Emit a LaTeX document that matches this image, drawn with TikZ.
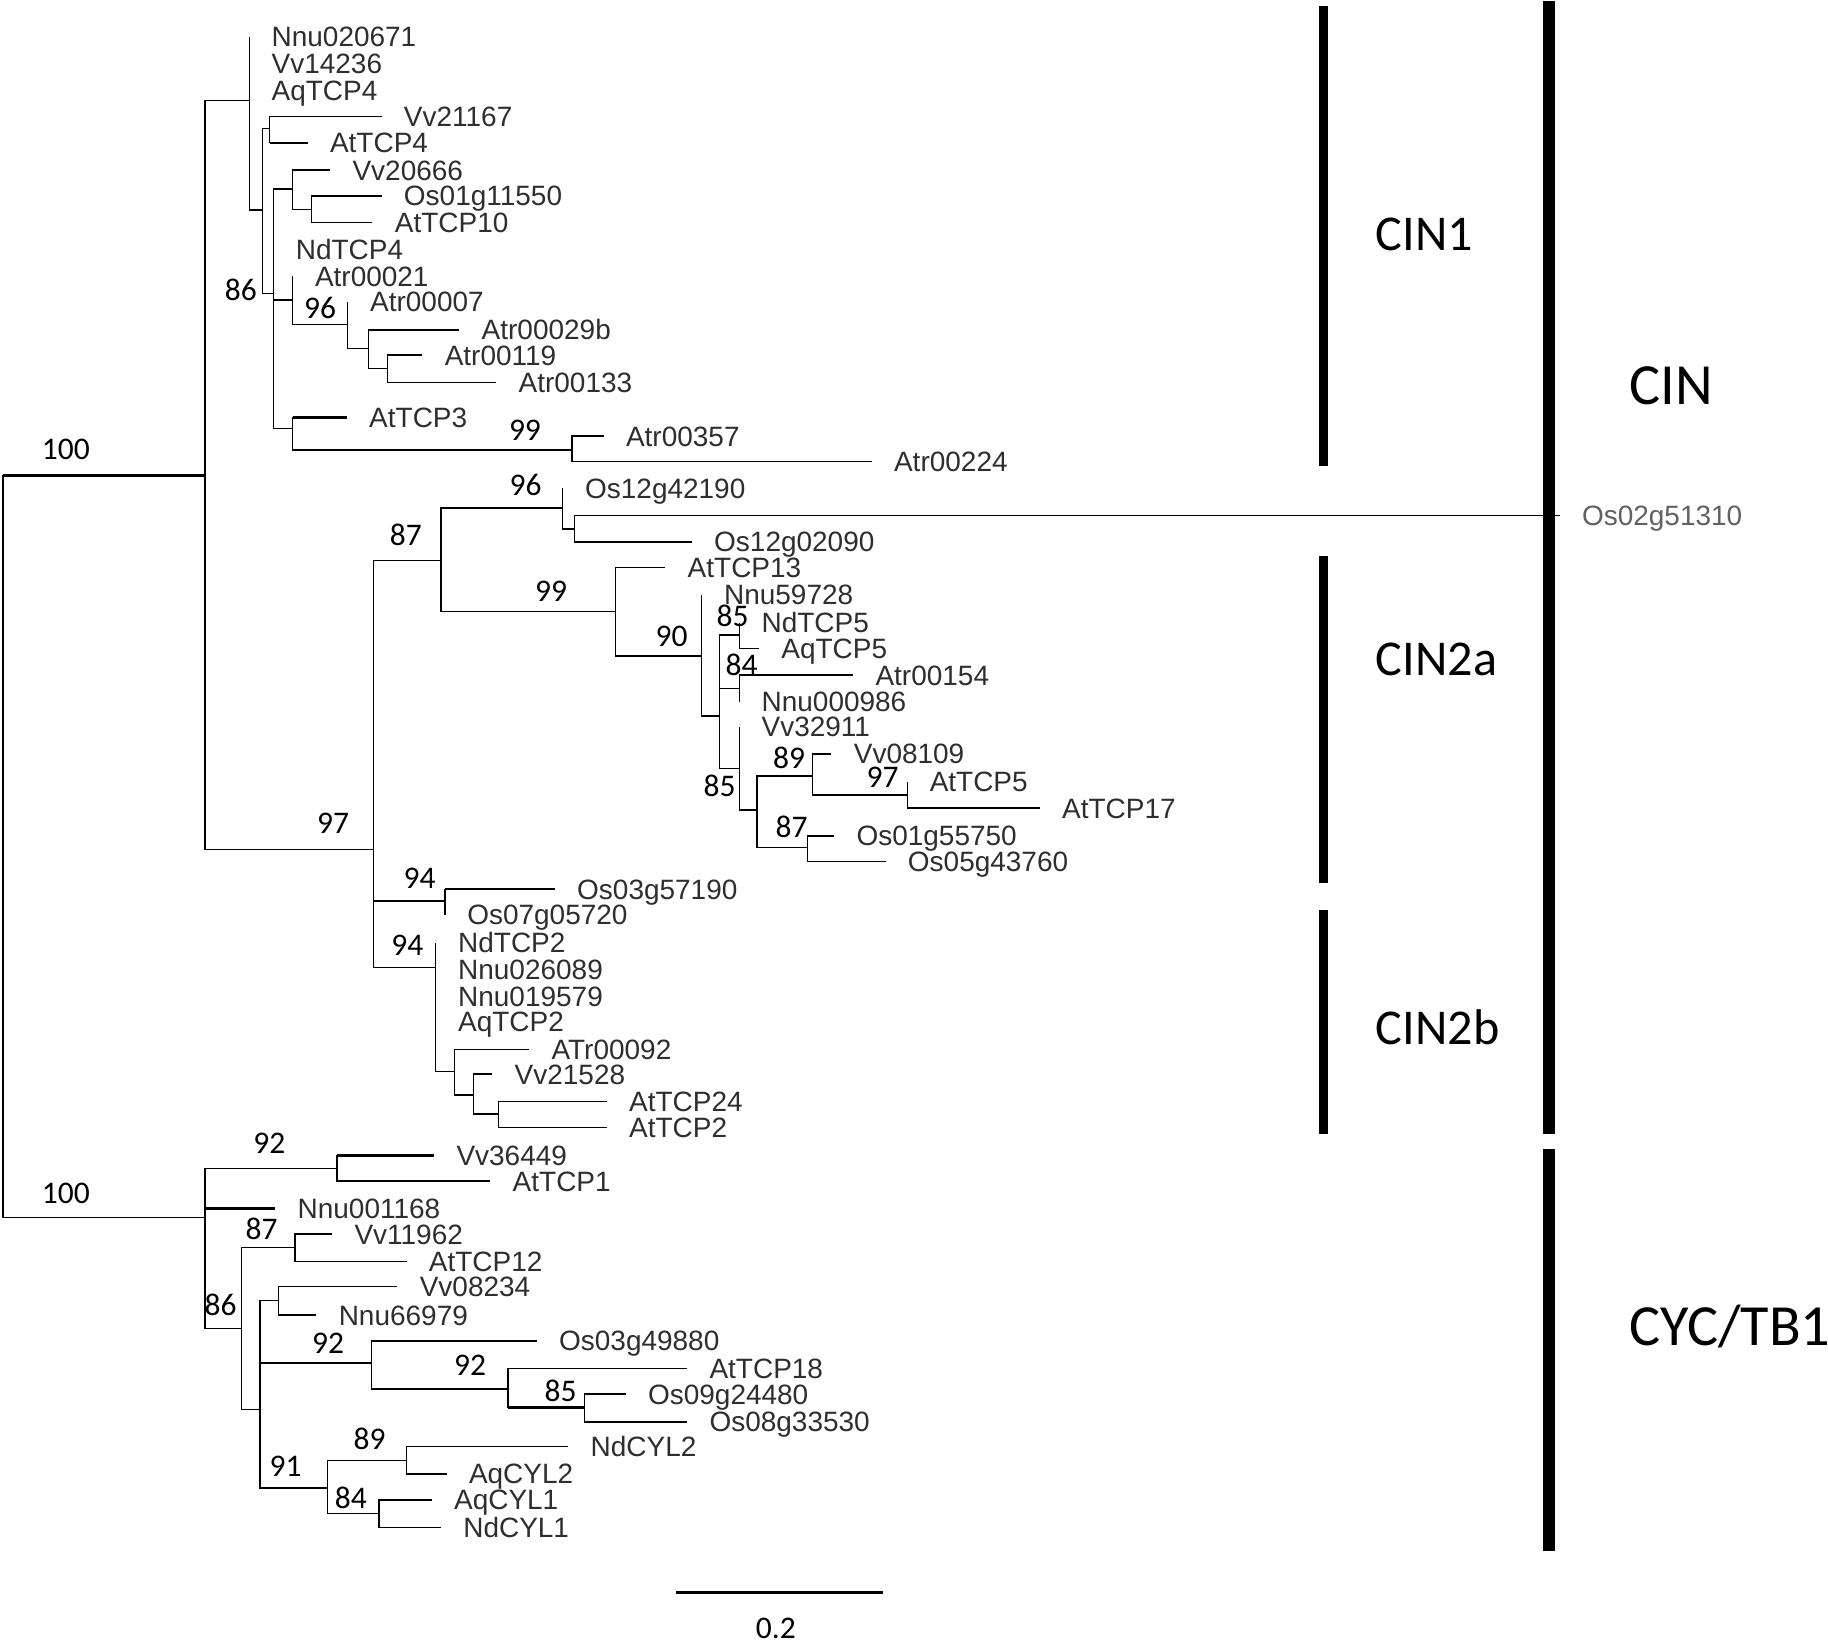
\documentclass[tikz,border=0pt]{standalone}
\usepackage{fontspec}
\setmainfont{Liberation Sans}
\newfontfamily\calibfont{Carlito}
\tikzset{
  br/.style={line width=1.2pt},
  thk/.style={line width=2pt},
  lab/.style={anchor=base west, inner sep=0pt, xshift=19pt, yshift=-8.6pt, font=\fontsize{24}{24}\selectfont, text=black!82},
  bs/.style={inner sep=0pt, font=\calibfont\fontsize{27}{27}\selectfont},
  clade/.style={anchor=base west, inner sep=0pt, font=\calibfont\fontsize{43}{43}\selectfont},
  bigclade/.style={anchor=base west, inner sep=0pt, font=\calibfont\fontsize{50}{50}\selectfont},
  cladebar/.style={line width=8pt},
  bigbar/.style={line width=10pt},
}
\newcommand\mkin[5][]{\coordinate (#3) at (#4,#5); \draw[br] (#2) |- (#3); \draw[br,#1] (#2 |- #3) -- (#3);}
\newcommand\mkleaf[5][]{\mkin[#1]{#2}{#3}{#4}{#5} \node[lab] (#3-t) at (#3) {#3};}
\begin{document}
\begin{tikzpicture}[x=1pt,y=-1pt]
\useasboundingbox (0,0) rectangle (1568,1408.5);
% root
\coordinate (root) at (2.5,726);
\mkin[thk]{root}{cin}{176}{408}
\mkin{root}{cyc}{176}{1044.2}
\draw[thk] (root |- cin) -- (root |- cyc);
\node[bs] (b100a) at (56.5,385.4) {100};
\node[bs] (b100b) at (56.5,1023.7) {100};
% CIN1
\mkin{cin}{n1}{213.8}{86}
\mkleaf{n1}{Nnu020671}{213.8}{31.4}
\mkleaf{n1}{Vv14236}{213.8}{54.3}
\mkleaf{n1}{AqTCP4}{213.8}{77.2}
\mkin{n1}{n2}{225.4}{180.1}
\mkin{n2}{n3}{231.3}{110}
\mkleaf{n3}{Vv21167}{327.3}{100}
\mkleaf[thk]{n3}{AtTCP4}{263.9}{122.4}
\mkin{n2}{n4}{234.6}{251.6}
\mkin{n4}{n5}{251}{162}
\mkleaf{n5}{Vv20666}{283.2}{145.8}
\mkin{n5}{n6}{267}{179.8}
\mkleaf{n6}{Os01g11550}{327.3}{168}
\mkleaf{n6}{AtTCP10}{319.5}{191}
\mkleaf{n4}{NdTCP4}{234.6}{213.9}
\mkin{n4}{n7}{251}{257.3}
\mkleaf{n7}{Atr00021}{251}{237}
\mkin{n7}{n8}{298.3}{278.5}
\mkleaf{n8}{Atr00007}{298.3}{258.8}
\mkin{n8}{n9}{316}{298.8}
\mkleaf{n9}{Atr00029b}{394}{283}
\mkin{n9}{n10}{332.4}{316}
\mkleaf{n10}{Atr00119}{362.3}{304.5}
\mkleaf{n10}{Atr00133}{425.7}{328.2}
\mkin{n4}{n11}{251}{367.4}
\mkleaf[thk]{n11}{AtTCP3}{297.5}{358}
\mkin{n11}{n12}{490.8}{386}
\mkleaf{n12}{Atr00357}{517.8}{374}
\mkleaf{n12}{Atr00224}{747.7}{396}
\node[bs] (b86a) at (206.6,248.8) {86};
\node[bs] (b96a) at (274.5,263.8) {96};
\node[bs] (b99a) at (450.3,369.4) {99};
% CIN2a
\mkin{cin}{m1}{320.5}{728.5}
\mkin{m1}{m2}{378.2}{480.9}
\mkin{m2}{m3}{482.7}{435.7}
\mkleaf{m3}{Os12g42190}{482.7}{418.9}
\mkin{m3}{m4}{492.9}{453.7}
\mkin{m4}{Os02g51310}{1337.8}{442.3}
\node[lab, text=black!62] (Os02g51310-t) at (Os02g51310) {Os02g51310};
\mkleaf[thk]{m4}{Os12g02090}{593.4}{464.8}
\mkin{m2}{m5}{527.8}{524.6}
\mkleaf{m5}{AtTCP13}{570.7}{487}
\mkin{m5}{m6}{601.9}{562.7}
\mkleaf{m6}{Nnu59728}{601.9}{510.3}
\mkin{m6}{m7}{617.2}{614.1}
\mkin{m7}{m8}{634.1}{544.6}
\mkleaf{m8}{NdTCP5}{634.1}{534}
\mkleaf{m8}{AqTCP5}{651}{556.1}
\mkin{m7}{m9}{634.1}{590.4}
\mkleaf[thk]{m9}{Atr00154}{731.8}{579}
\mkleaf{m9}{Nnu000986}{634.1}{601.8}
\mkin{m7}{m10}{634.1}{659}
\mkleaf{m10}{Vv32911}{634.1}{623.3}
\mkin{m10}{m11}{649.4}{694.7}
\mkin{m11}{m12}{696.9}{665.6}
\mkleaf[thk]{m12}{Vv08109}{713.2}{646.7}
\mkin{m12}{m13}{778.3}{681.9}
\mkleaf{m13}{AtTCP5}{778.3}{670.4}
\mkleaf[thk]{m13}{AtTCP17}{891.9}{693.3}
\mkin{m11}{m14}{692.8}{726.8}
\mkleaf{m14}{Os01g55750}{715.5}{717}
\mkleaf{m14}{Os05g43760}{759.6}{739.1}
\node[bs] (b97a) at (285.8,706.2) {97};
\node[bs] (b87a) at (348.2,458.9) {87};
\node[bs] (b96b) at (450.8,416) {96};
\node[bs] (b99b) at (472.7,507.5) {99};
\node[bs] (b90) at (576.1,546.1) {90};
\node[bs] (b85a) at (628.4,528.2) {85};
\node[bs] (b84a) at (636.1,570) {84};
\node[bs] (b85b) at (617.2,673.7) {85};
\node[bs] (b89a) at (676.9,650) {89};
\node[bs] (b97b) at (757,667) {97};
\node[bs] (b87b) at (679,709.4) {87};
% CIN2b
\mkin{m1}{m15}{381.6}{772.8}
\mkleaf[thk]{m15}{Os03g57190}{475.9}{762.8}
\mkleaf{m15}{Os07g05720}{381.6}{784.8}
\mkin{m1}{m16}{373.8}{830.1}
\mkleaf{m16}{NdTCP2}{373.8}{808.8}
\mkleaf{m16}{Nnu026089}{373.8}{831.5}
\mkleaf{m16}{Nnu019579}{373.8}{854.4}
\mkleaf{m16}{AqTCP2}{373.8}{876.4}
\mkin{m16}{m17}{390}{919.3}
\mkleaf{m17}{ATr00092}{453.9}{900.1}
\mkin{m17}{m18}{406}{939.3}
\mkleaf[thk]{m18}{Vv21528}{422.3}{921.3}
\mkin{m18}{m19}{427.4}{955.6}
\mkleaf{m19}{AtTCP24}{520.5}{945}
\mkleaf{m19}{AtTCP2}{520.5}{967.3}
\node[bs] (b94a) at (360,753.4) {94};
\node[bs] (b94b) at (349.4,810.7) {94};
% CYC/TB1
\mkin{cyc}{c1}{289}{1002.5}
\mkleaf[thk]{c1}{Vv36449}{372.4}{991.1}
\mkleaf{c1}{AtTCP1}{420.6}{1013.1}
\mkleaf[thk]{cyc}{Nnu001168}{236.1}{1036.5}
\mkin{cyc}{c2}{207.3}{1139.4}
\mkin{c2}{c3}{253}{1070.2}
\mkleaf{c3}{Vv11962}{284.9}{1058.5}
\mkleaf{c3}{AtTCP12}{348.7}{1082.2}
\mkin{c2}{c4}{223}{1208.9}
\mkin{c4}{c5}{239.1}{1115.7}
\mkleaf{c5}{Vv08234}{340.9}{1103.7}
\mkleaf{c5}{Nnu66979}{271.4}{1128}
\mkin[thk]{c4}{c6}{318.6}{1169.4}
\mkleaf[thk]{c6}{Os03g49880}{460.4}{1150}
\mkin{c6}{c7}{435.8}{1191.4}
\mkleaf{c7}{AtTCP18}{589.4}{1173.7}
\mkin[thk]{c7}{c8}{501.3}{1207.2}
\mkleaf[thk]{c8}{Os09g24480}{536.7}{1195.7}
\mkleaf[thk]{c8}{Os08g33530}{589.4}{1219.5}
\mkin[thk]{c4}{c9}{280.7}{1276.6}
\mkin{c9}{c10}{348.6}{1252.9}
\mkleaf{c10}{NdCYL2}{487.5}{1240.9}
\mkleaf[thk]{c10}{AqCYL2}{383.1}{1264.3}
\mkin{c9}{c11}{325}{1298.1}
\mkleaf{c11}{AqCYL1}{370.3}{1286.6}
\mkleaf{c11}{NdCYL1}{378.2}{1310.4}
\node[bs] (b92a) at (231,981) {92};
\node[bs] (b87c) at (224.4,1053.7) {87};
\node[bs] (b86b) at (189.3,1119.4) {86};
\node[bs] (b92b) at (281.4,1152.6) {92};
\node[bs] (b92c) at (403.3,1171.3) {92};
\node[bs] (b85c) at (480.9,1192.6) {85};
\node[bs] (b89b) at (317.1,1234.6) {89};
\node[bs] (b91) at (245,1257.5) {91};
\node[bs] (b84b) at (300.9,1284.5) {84};
% clade bars
\coordinate (k1a) at (1135.5,4.9);   \coordinate (k1b) at (1135.5,399.8);
\coordinate (k2a) at (1135.5,476.7); \coordinate (k2b) at (1135.5,757.8);
\coordinate (k3a) at (1135.5,780.8); \coordinate (k3b) at (1135.5,972.8);
\coordinate (k4a) at (1328.9,1);     \coordinate (k4b) at (1328.9,972.8);
\coordinate (k5a) at (1328.9,985.3); \coordinate (k5b) at (1328.9,1330);
\draw[cladebar] (k1a) -- (k1b);
\draw[cladebar] (k2a) -- (k2b);
\draw[cladebar] (k3a) -- (k3b);
\draw[bigbar] (k4a) -- (k4b);
\draw[bigbar] (k5a) -- (k5b);
\node[clade] (CIN1) at (1180,215) {CIN1};
\node[clade] (CIN2a) at (1180,579.5) {CIN2a};
\node[clade] (CIN2b) at (1180,895.6) {CIN2b};
\node[bigclade] (CIN) at (1397.5,347.3) {CIN};
\node[bigclade] (CYC) at (1397.5,1154.3) {CYC/TB1};
% scale bar
\coordinate (sb1) at (580,1365.8);
\coordinate (sb2) at (757.3,1365.8);
\draw[line width=2.2pt] (sb1) -- (sb2);
\node[bs] (sbl) at (665.5,1396.5) {0.2};
\end{tikzpicture}
\end{document}
